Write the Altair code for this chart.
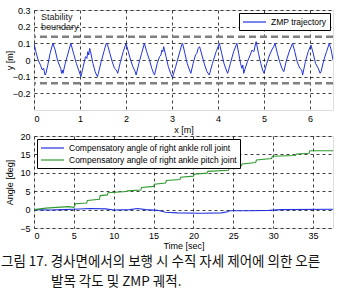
import altair as alt
import pandas as pd

# ZMP trajectory (x [m], y [m])
zmp_x = [0.00, 0.04, 0.09, 0.14, 0.18, 0.21, 0.24, 0.26, 0.30, 0.35, 0.41,
         0.46, 0.51, 0.55, 0.58, 0.60, 0.62, 0.63, 0.68, 0.74, 0.80,
         0.86, 0.92, 0.97, 1.02, 1.07, 1.12, 1.15, 1.17, 1.19, 1.21, 1.23,
         1.28, 1.33, 1.36, 1.38, 1.40, 1.46, 1.52, 1.57, 1.60,
         1.65, 1.70, 1.75, 1.79, 1.82, 1.88, 1.94, 2.00,
         2.05, 2.10, 2.15, 2.20, 2.22, 2.28, 2.34, 2.40,
         2.45, 2.51, 2.56, 2.60, 2.62, 2.68, 2.73, 2.76, 2.78, 2.80, 2.82,
         2.87, 2.92, 2.97, 3.01, 3.08, 3.15, 3.21, 3.23,
         3.28, 3.33, 3.38, 3.41, 3.46, 3.51, 3.54, 3.57, 3.60,
         3.65, 3.71, 3.76, 3.81, 3.88, 3.96, 4.03,
         4.08, 4.13, 4.18, 4.21, 4.27, 4.34, 4.41,
         4.45, 4.49, 4.52, 4.54, 4.56, 4.58, 4.64, 4.70, 4.74, 4.78, 4.81, 4.83,
         4.88, 4.93, 4.97, 5.00, 5.06, 5.12, 5.17, 5.21, 5.24,
         5.29, 5.34, 5.39, 5.43, 5.49, 5.56, 5.62,
         5.67, 5.72, 5.78, 5.82, 5.84, 5.90, 5.96, 6.02,
         6.07, 6.12, 6.18, 6.22, 6.24, 6.30, 6.36, 6.42, 6.46, 6.50]
zmp_y = [0.10, 0.05, 0.00, -0.03, -0.06, -0.05, -0.09, -0.08, -0.03, 0.04, 0.10,
         0.06, 0.00, -0.03, -0.05, -0.08, -0.06, -0.08, -0.02, 0.04, 0.10,
         0.04, -0.02, -0.06, -0.10, -0.04, 0.02, 0.01, 0.05, 0.03, 0.07, 0.05,
         -0.02, -0.07, -0.09, -0.10, -0.08, -0.01, 0.05, 0.10, 0.09,
         0.04, -0.01, -0.05, -0.06, -0.08, -0.01, 0.05, 0.10,
         0.05, 0.00, -0.04, -0.07, -0.09, -0.02, 0.04, 0.10,
         0.05, 0.00, -0.05, -0.08, -0.09, -0.02, 0.02, 0.03, 0.06, 0.05, 0.08,
         0.02, -0.04, -0.08, -0.105, -0.04, 0.03, 0.09, 0.10,
         0.04, -0.02, -0.06, -0.08, -0.02, 0.03, 0.04, 0.07, 0.08,
         0.03, -0.03, -0.07, -0.09, -0.02, 0.05, 0.10,
         0.04, -0.02, -0.06, -0.08, -0.02, 0.05, 0.10,
         0.04, -0.02, -0.05, -0.03, -0.08, -0.06, -0.01, 0.03, 0.06, 0.05, 0.09, 0.11,
         0.04, -0.02, -0.06, -0.08, -0.02, 0.03, 0.06, 0.08, 0.10,
         0.04, -0.01, -0.05, -0.07, 0.00, 0.06, 0.10,
         0.05, -0.01, -0.05, -0.06, -0.09, -0.01, 0.05, 0.09,
         0.04, -0.02, -0.05, -0.08, -0.07, 0.00, 0.05, 0.10, 0.06, 0.00]
boundary_y = [0.14, -0.14]

# Compensatory ankle angles (time [sec], angle [deg])
roll_t = [0, 2, 3.5, 5, 7, 9, 10, 12, 13, 14, 15.5, 16.5, 18, 21, 23.5, 24.3, 24.5, 27, 29.5, 31, 37.5]
roll_v = [0, -0.1, 0.0, 0.1, 0.3, 0.2, -0.1, 0.0, 0.3, 0.0, -0.2, -0.7, -0.9, -1.0, -0.9, -0.6, -0.3, -0.3, -0.2, 0.0, 0.1]
pitch_t = [0.0, 1.5, 4.3, 5.0, 5.2, 6.6, 6.7, 8.2, 8.3, 9.2, 9.3, 11.6, 11.7, 13.4, 13.5, 15.0, 15.1,
           16.5, 16.6, 18.3, 18.4, 20.0, 20.1, 21.7, 21.8, 24.4, 24.5, 26.0, 26.1, 27.8, 27.9, 29.8,
           29.9, 32.8, 32.9, 34.5, 34.6, 37.5]
pitch_v = [0.0, 0.4, 0.8, 0.6, 1.6, 1.8, 2.5, 2.8, 3.8, 4.0, 4.6, 4.9, 5.1, 5.3, 6.0, 6.3, 6.9,
           7.2, 7.9, 8.2, 8.8, 9.1, 9.6, 9.9, 10.4, 10.7, 11.5, 11.9, 12.4, 12.8, 13.5, 13.9,
           14.5, 14.7, 15.1, 15.3, 16.0, 16.0]

zmp_name = "ZMP trajectory"
roll_name = "Compensatory angle of right ankle roll joint"
pitch_name = "Compensatory angle of right ankle pitch joint"
caption_1 = "그림 17. 경사면에서의 보행 시 수직 자세 제어에 의한 오른"
caption_2 = "발목 각도 및 ZMP 궤적."

BLUE = "#2233dd"
GREEN = "#2f9a2f"
FONT = "Liberation Sans"
LINE_SYMBOL = "M-1,0H3.6"

zmp = pd.DataFrame({"x": zmp_x, "y": zmp_y, "i": range(len(zmp_x)), "s": zmp_name})
bnd = pd.DataFrame({"y": boundary_y})
angles = pd.concat([
    pd.DataFrame({"t": roll_t, "v": roll_v, "s": roll_name, "i": range(len(roll_t))}),
    pd.DataFrame({"t": pitch_t, "v": pitch_v, "s": pitch_name, "i": range(len(pitch_t))}),
])

grid_axis = dict(gridDash=[3, 3], gridColor="#000", gridOpacity=0.75, ticks=False,
                 domain=False, labelOverlap=False, labelFont=FONT, labelFontSize=9, labelColor="#000",
                 titleFont=FONT, titleFontSize=9, titleFontWeight="normal", titleColor="#000")

legend_style = dict(title=None, symbolType=LINE_SYMBOL, symbolSize=100, symbolStrokeWidth=1.2,
                    labelOffset=17, labelLimit=0, labelFont=FONT, labelFontSize=8.5, labelColor="#000",
                    fillColor="white", strokeColor="#000", padding=3, rowPadding=1)

xs = alt.X("x:Q", title="x [m]", scale=alt.Scale(domain=[0, 6.5], nice=False),
           axis=alt.Axis(values=[0, 1, 2, 3, 4, 5, 6], titlePadding=2, labelPadding=4, **grid_axis))
y_axis = alt.Axis(values=[-0.2, -0.1, 0, 0.1, 0.2, 0.3], titleX=-20, titleY=50, labelPadding=4,
                  format=".1~f", **grid_axis)
y_scale = alt.Scale(domain=[-0.3, 0.3], nice=False)

zmp_line = alt.Chart(zmp).mark_line(strokeWidth=1, clip=True).encode(
    x=xs, y=alt.Y("y:Q", title="y [m]", scale=y_scale, axis=y_axis), order="i:Q",
    color=alt.Color("s:N", scale=alt.Scale(domain=[zmp_name], range=[BLUE]),
                    legend=alt.Legend(orient="top-right", offset=3, **legend_style)),
)
bnd_rule = alt.Chart(bnd).mark_rule(strokeDash=[7, 4], strokeWidth=2.5, color="#808080").encode(
    y=alt.Y("y:Q", title="y [m]", scale=y_scale, axis=y_axis))
bnd_text = alt.Chart(pd.DataFrame({"t": ["Stability\nboundary"]})).mark_text(
    align="left", baseline="top", lineBreak="\n", font=FONT, fontSize=9, lineHeight=10, color="#222"
).encode(x=alt.value(7), y=alt.value(3), text="t:N")

top = alt.layer(bnd_rule, zmp_line, bnd_text).properties(width=299, height=100)

xt = alt.X("t:Q", title="Time [sec]", scale=alt.Scale(domain=[0, 37.5], nice=False),
           axis=alt.Axis(values=[0, 5, 10, 15, 20, 25, 30, 35], titlePadding=1, labelPadding=3, **grid_axis))
yt = alt.Y("v:Q", title="Angle [deg]", scale=alt.Scale(domain=[-5, 20], nice=False),
           axis=alt.Axis(values=[-5, 0, 5, 10, 15, 20], titleX=-20, titleY=46, labelPadding=4, **grid_axis))

bottom = alt.Chart(angles).mark_line(strokeWidth=1.1).encode(
    x=xt, y=yt, order="i:Q", detail="s:N",
    color=alt.Color("s:N", scale=alt.Scale(domain=[roll_name, pitch_name], range=[BLUE, GREEN]),
                    legend=alt.Legend(orient="top-left", offset=3, **legend_style)),
).properties(width=299, height=92)

cap_style = dict(align="left", baseline="middle", font="Noto Sans CJK KR", fontSize=13.5, color="#111")
cap1 = alt.Chart(pd.DataFrame({"t": [caption_1]})).mark_text(**cap_style).encode(
    text="t:N", x=alt.value(-33), y=alt.value(8))
cap2 = alt.Chart(pd.DataFrame({"t": [caption_2]})).mark_text(**cap_style).encode(
    text="t:N", x=alt.value(17), y=alt.value(28))
caption = alt.layer(cap1, cap2).properties(width=299, height=1,
                                           view=alt.ViewBackground(stroke="transparent"))

chart = alt.vconcat(top, bottom, caption, spacing=26, bounds="flush").resolve_scale(
    color="independent"
).resolve_legend(color="independent").properties(
    padding={"left": 0, "top": 5, "right": 0, "bottom": 0}
).configure_view(stroke="#000", strokeWidth=1).configure(background="white")

chart.save("out.html", embed_options={"renderer": "svg", "actions": False})
